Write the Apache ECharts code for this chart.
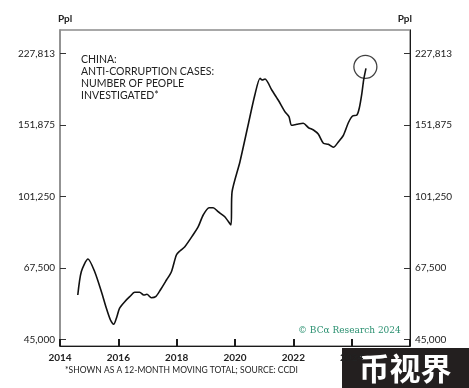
<!DOCTYPE html>
<html>
<head>
<meta charset="utf-8">
<script src="https://cdn.jsdelivr.net/npm/echarts@6/dist/echarts.min.js"></script>
<style>html,body{margin:0;padding:0;background:#fff}#c{width:469px;height:388px}</style>
</head>
<body>
<div id="c"></div>
<script>
// ---- data ----
const years = [2014.61, 2014.73, 2014.96, 2015.19, 2015.42, 2015.59, 2015.73, 2015.84, 2015.95,
  2016.04, 2016.22, 2016.39, 2016.56, 2016.73, 2016.87, 2016.98,
  2017.13, 2017.28, 2017.44, 2017.65, 2017.82, 2017.99,
  2018.11, 2018.28, 2018.56, 2018.74, 2018.91,
  2019.11, 2019.25, 2019.42, 2019.65, 2019.86, 2019.90,
  2020.17, 2020.45, 2020.68, 2020.86, 2020.93,
  2021.03, 2021.26, 2021.48, 2021.71, 2021.85, 2021.94,
  2022.12, 2022.34, 2022.52, 2022.69, 2022.86,
  2023.03, 2023.20, 2023.37, 2023.55, 2023.72, 2023.89,
  2024.03, 2024.18, 2024.26, 2024.35, 2024.41, 2024.49];
const peopleInvestigated = [57850, 66020, 70960, 66020, 58950, 53650, 50200, 49000, 51150,
  53650, 55700, 57300, 58740, 58740, 57850, 58080,
  56970, 57300, 59520, 62990, 66020, 72590,
  74250, 76080, 81300, 85220, 91070,
  94910, 94910, 92780, 90190, 86040, 103920,
  123200, 151700, 179840, 197700, 195800,
  196900, 185000, 174800, 163600, 159000, 151450,
  152300, 153170, 149390, 147470, 143910,
  136750, 135980, 133680, 137990, 143330, 153870,
  159650, 160560, 166790, 181580, 195800, 209240];
const circleYear = [2024.47];
const circleValue = [211000];
const yTickValues = [45000, 67500, 101250, 151875, 227813];
const yTickLabels = ['45,000', '67,500', '101,250', '151,875', '227,813'];
const xTickLabels = ['2014', '2016', '2018', '2020', '2022', '2024'];
const titleText = 'CHINA:\nANTI-CORRUPTION CASES:\nNUMBER OF PEOPLE\nINVESTIGATED*';
const footnote = '*SHOWN AS A 12-MONTH MOVING TOTAL; SOURCE: CCDI';
const copyright = '\u00A9 BC\u03B1 Research 2024';
const watermark = '币视界';

// ---- log base 1.5 transform ----
const BASE = 1.5, V0 = yTickValues[0];
const toU = v => Math.log(v / V0) / Math.log(BASE);
const uTicks = yTickValues.map(toU);
const yMin = -0.0937, yMax = 4.3259;
const labelFor = v => {
  for (let i = 0; i < uTicks.length; i++) if (Math.abs(uTicks[i] - v) < 1e-6) return yTickLabels[i];
  return '';
};
const lineData = years.map((y, i) => [y, toU(peopleInvestigated[i])]);
const circleData = circleYear.map((y, i) => [y, toU(circleValue[i])]);

const FONT = 'Lato';
const txt = '#222';
function yAxisDef(pos, lineColor) {
  return {
    type: 'value', position: pos, min: yMin, max: yMax,
    name: 'Ppl', nameLocation: 'end', nameGap: 6,
    nameTextStyle: { fontFamily: FONT, fontSize: 10, color: txt, fontWeight: 'bold',
      align: pos === 'left' ? 'left' : 'right', padding: pos === 'left' ? [0,0,0,-2] : [0,-2,0,0] },
    axisLine: { show: true, onZero: false, lineStyle: { color: lineColor, width: pos === 'left' ? 1.5 : 1 } },
    axisTick: { show: true, inside: true, length: 6, customValues: uTicks, lineStyle: { color: '#333', width: 1 } },
    axisLabel: { show: true, customValues: uTicks, formatter: labelFor, margin: 5,
      fontFamily: FONT, fontSize: 10, color: txt },
    splitLine: { show: false }
  };
}

const chart = echarts.init(document.getElementById('c'), null, { renderer: 'canvas' });
chart.setOption({
  animation: false,
  backgroundColor: '#fff',
  grid: { left: 60, right: 59, top: 30, bottom: 42, show: true, borderColor: '#8c8c8c', borderWidth: 1.5 },
  xAxis: {
    type: 'value', min: 2014, max: 2026, interval: 2,
    axisLine: { show: true, onZero: false, lineStyle: { color: '#1a1a1a', width: 1.2 } },
    axisTick: { show: true, inside: true, length: 7, lineStyle: { color: '#1a1a1a', width: 2 } },
    axisLabel: { margin: 7, fontFamily: FONT, fontSize: 10, fontWeight: 'bold', color: txt,
      formatter: v => xTickLabels.indexOf(String(v)) >= 0 ? String(v) : '' },
    splitLine: { show: false }
  },
  yAxis: [yAxisDef('left', '#8c8c8c'), yAxisDef('right', '#1a1a1a')],
  series: [
    { type: 'line', data: lineData, showSymbol: false, smooth: 0.25,
      lineStyle: { color: '#111', width: 1.6 }, yAxisIndex: 0 },
    { type: 'scatter', data: circleData, symbol: 'circle', symbolSize: 23, yAxisIndex: 0,
      itemStyle: { color: 'rgba(0,0,0,0)', borderColor: '#111', borderWidth: 1.3 } }
  ],
  graphic: [
    { type: 'text', left: 81, top: 54, style: { text: titleText, fontFamily: FONT, fontSize: 10.5,
      lineHeight: 12, fill: '#222' } },
    { type: 'text', left: 65, top: 366, style: { text: footnote, fontFamily: FONT, fontSize: 8.5, fill: '#222' } },
    { type: 'text', left: 298, top: 326, style: { text: copyright, fontFamily: 'DejaVu Serif', fontSize: 9,
      fill: '#2a9070' } },
    { type: 'rect', shape: { x: 342, y: 348, width: 127, height: 40 }, style: { fill: '#231f1f' } },
    { type: 'text', x: 405, y: 368, style: { text: watermark, fontFamily: 'Noto Sans CJK SC', fontSize: 31,
      fontWeight: 'bold', fill: '#fff', align: 'center', verticalAlign: 'middle' } }
  ]
});
</script>
</body>
</html>
